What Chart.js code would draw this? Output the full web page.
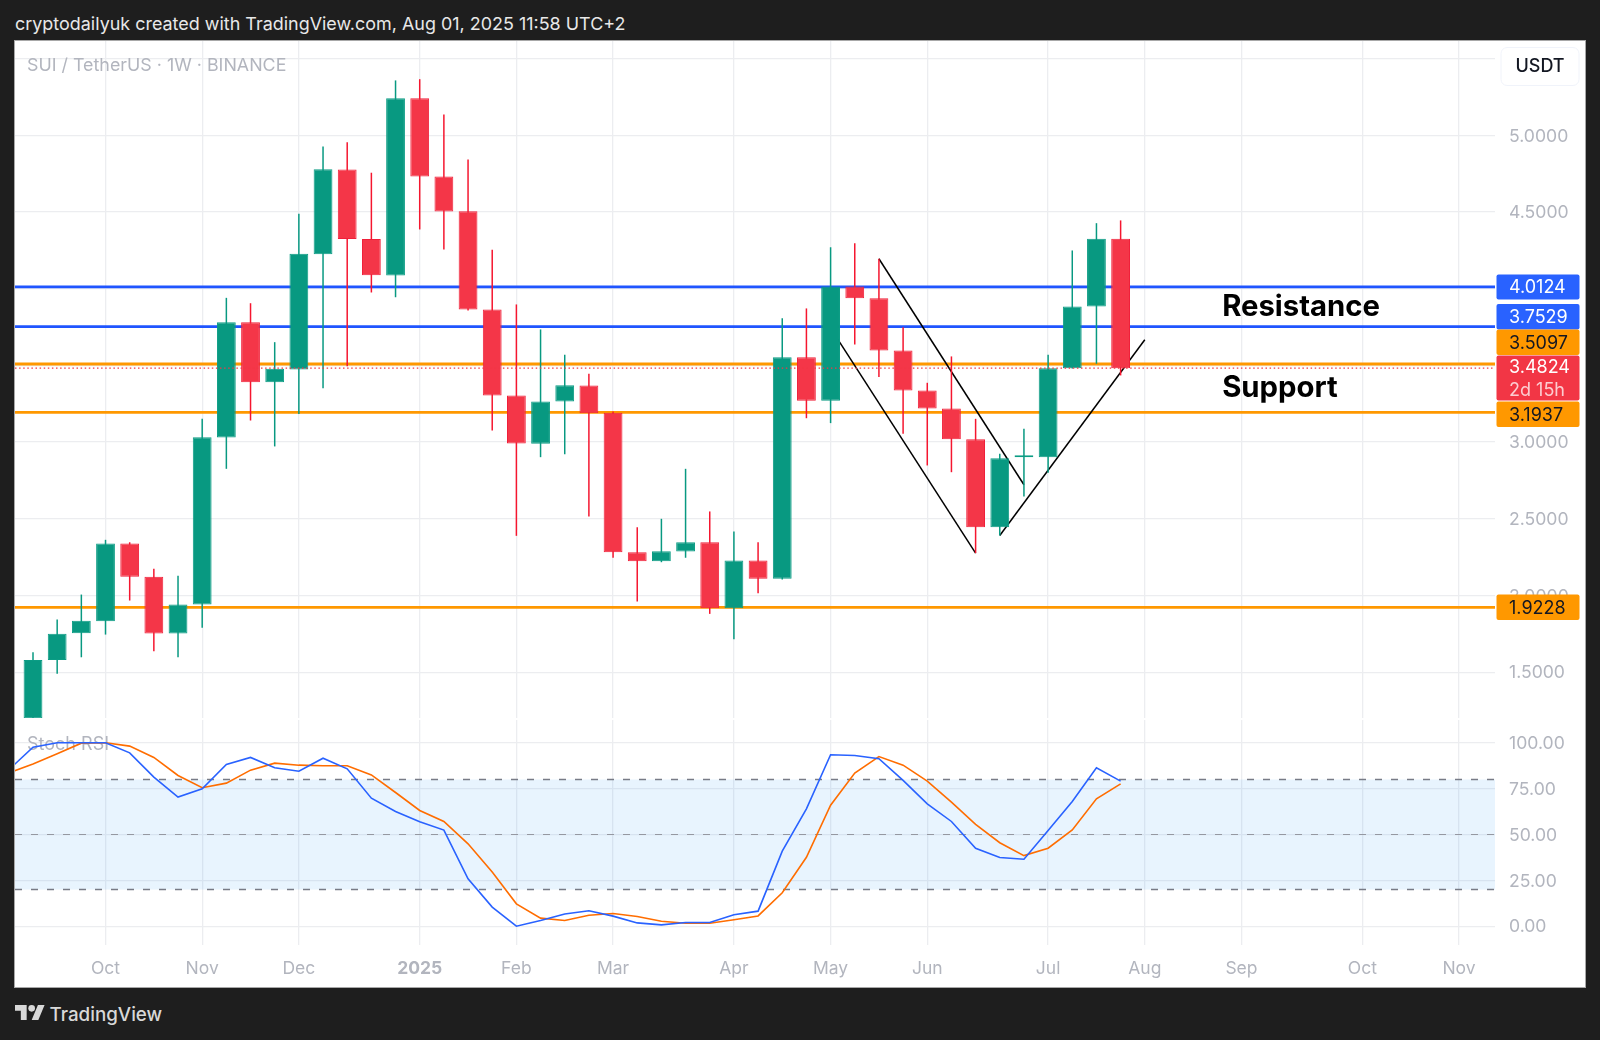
<!DOCTYPE html>
<html><head><meta charset="utf-8">
<script src="https://cdn.jsdelivr.net/npm/chart.js@4/dist/chart.umd.js"></script>
<style>
html,body{margin:0;padding:0;background:#1e1e1e;width:1600px;height:1040px;overflow:hidden;font-family:Inter,sans-serif}
#panel{position:absolute;left:14px;top:40px;width:1570px;height:946px;background:#fff;border:1px solid #a8a8a8}
canvas{position:absolute;display:block}
#head{position:absolute;left:15px;top:13px;font-size:17.95px;line-height:22px;color:#e8e8e8;white-space:nowrap}
#foot{position:absolute;left:49.5px;top:1003px;font-size:18.8px;line-height:24px;font-weight:500;color:#d8d8d8;white-space:nowrap}
#logo{position:absolute;left:15px;top:1005px;width:30px;height:15px}
</style></head><body>
<div id="head">cryptodailyuk created with TradingView.com, Aug 01, 2025 11:58 UTC+2</div>
<div id="panel">
<canvas id="price" width="1570" height="677" style="left:0;top:0"></canvas>
<canvas id="osc" width="1570" height="266" style="left:0;top:679px"></canvas>
</div>
<svg id="logo" viewBox="0 4 36 18"><path fill="#d8d8d8" d="M14 22H7V11H0V4h14v18zM28 22h-8l7.5-18h8L28 22z"/><circle fill="#d8d8d8" cx="20" cy="8" r="4"/></svg>
<div id="foot">TradingView</div>
<script>
// ---- weekly candles, values ----
const opens  = [1.200,1.580,1.754,1.832,2.339,2.122,1.752,1.941,3.030,3.782,3.391,3.474,4.226,4.778,4.324,4.087,5.243,4.733,4.506,3.865,3.304,2.989,3.265,3.369,3.191,2.282,2.224,2.287,2.347,1.917,2.228,2.109,3.554,3.270,4.015,3.939,3.598,3.337,3.219,3.019,2.445,2.902,2.902,3.482,3.885,4.326];
const highs  = [1.630,1.843,2.006,2.363,2.347,2.174,2.128,3.152,3.941,3.906,3.652,4.489,4.928,4.956,4.757,5.359,5.367,5.137,4.843,4.254,3.898,3.735,3.570,3.446,3.200,2.445,2.500,2.826,2.548,2.417,2.347,3.808,3.872,4.271,4.297,4.196,3.750,3.387,3.559,3.152,2.924,3.087,3.570,4.250,4.428,4.446];
const lows   = [1.198,1.489,1.597,1.745,1.967,1.637,1.597,1.789,2.826,3.141,2.972,3.184,3.352,3.495,3.976,3.945,4.387,4.256,3.859,3.076,2.389,2.902,2.921,2.515,2.246,1.961,2.217,2.246,1.880,1.715,2.015,2.105,3.156,3.124,3.637,3.424,3.054,2.848,2.804,2.276,2.391,2.645,2.800,3.480,3.511,3.435];
const closes = [1.580,1.750,1.835,2.339,2.122,1.752,1.941,3.032,3.782,3.391,3.478,4.228,4.780,4.324,4.089,5.243,4.733,4.504,3.865,3.304,2.991,3.265,3.371,3.189,2.282,2.224,2.289,2.347,1.917,2.228,2.109,3.554,3.270,4.015,3.939,3.598,3.337,3.219,3.019,2.445,2.895,2.906,3.482,3.885,4.326,3.482];
// Stoch RSI, first value belongs to the week before the first candle
const stochK = [85.3,97.6,100,100,100,94.5,81.3,70.4,74.9,88.2,92,86.4,84.5,91.6,85.8,69.8,62.5,56.9,52.4,25.8,10.4,0,3.1,6.7,8.4,5.5,1.8,0.7,2,2,6.2,8.2,40.9,64,93.5,93.1,91.3,79.5,66.7,57.1,42.5,37.5,36.5,52.2,68,86.4,79.1];
const stochD = [83.5,88.5,94,99.8,100,98.2,92,82.2,75.5,78,85.1,88.9,87.8,87.5,87.5,82.5,72.9,63.1,57.1,44.9,29.5,12.2,4.4,3.1,6,6.9,5.3,2.7,1.6,1.6,3.5,5.6,18.2,37.6,66,83.5,92.5,87.8,79.1,67.6,55.5,45.5,38.5,42.5,52.5,69.5,77.6];
// ---- axes ----
const monthIdx    = [3,7,11,16,20,24,29,33,37,42,46,50,55,59];
const monthLabels = ['Oct','Nov','Dec','2025','Feb','Mar','Apr','May','Jun','Jul','Aug','Sep','Oct','Nov'];
const priceTicks  = [1.5,2,2.5,3,3.5,4,4.5,5,5.5];
const oscTicks    = [0,25,50,75,100];
const X_MIN=-0.745, X_MAX=60.49;
// ---- drawn levels and trend lines (price units) ----
const resistance = [4.0124,3.7529];
const support    = [3.5097,3.1937,1.9228];
const lastPrice  = 3.4824;
const trendUpperX=[35,41],  trendUpperY=[4.196,2.722];
const trendLowerX=[33,39],  trendLowerY=[3.743,2.276];
const trendRiseX =[40,46],  trendRiseY =[2.391,3.668];
const oscBands=[80,50,20];

const GREEN='#089981',RED='#F23645',GRID='#ecedf0',TXT='#b2b5be',BLUE='#2962FF',ORANGE='#FF9800';
const weeks=opens.map((_,i)=>i);
const flat=(v,color,width,dash,order)=>({type:'line',data:[{x:X_MIN,y:v},{x:X_MAX,y:v}],borderColor:color,borderWidth:width,borderDash:dash||[],pointRadius:0,order});
const seg=(xs,ys)=>({type:'line',data:xs.map((x,i)=>({x,y:ys[i]})),borderColor:'#000',borderWidth:1.5,pointRadius:0,order:3});
const baseX=(extra)=>Object.assign({type:'linear',min:X_MIN,max:X_MAX,offset:false,border:{display:false},
  grid:{color:GRID,lineWidth:1.3,drawTicks:false,offset:false},
  afterBuildTicks(s){s.ticks=monthIdx.map(value=>({value}));}},extra);
const fixY=(s)=>{s.width=90;s.paddingTop=0;s.paddingBottom=0;};
const lab=(ctx,t,x,y,font,color,align)=>{ctx.font=font;ctx.fillStyle=color;ctx.textAlign=align||'left';ctx.textBaseline='middle';ctx.fillText(t,x,y);};

const badges=[
 {lines:['4.0124'],fill:BLUE,ink:'#fff',top:274.5,bottom:299.5},
 {lines:['3.7529'],fill:BLUE,ink:'#fff',top:304,bottom:329.5},
 {lines:['3.5097'],fill:ORANGE,ink:'#131722',top:329.5,bottom:355},
 {lines:['3.4824','2d 15h'],fill:RED,ink:'#fff',top:355.5,bottom:400.5},
 {lines:['3.1937'],fill:ORANGE,ink:'#131722',top:401.5,bottom:427},
 {lines:['1.9228'],fill:ORANGE,ink:'#131722',top:594.5,bottom:620}
];
const priceOverlay={id:'priceOverlay',
 beforeDatasetsDraw(c){lab(c.ctx,'SUI / TetherUS · 1W · BINANCE',12,24.5,'17.85px Inter',TXT);},
 afterDraw(c){
  const ctx=c.ctx,sx=c.scales.x,sy=c.scales.y;
  lab(ctx,'Resistance',sx.getPixelForValue(49.2),sy.getPixelForValue(3.882),'bold 29.3px Inter','#000');
  lab(ctx,'Support',sx.getPixelForValue(49.2),sy.getPixelForValue(3.352),'bold 29.3px Inter','#000');
  // currency button
  ctx.beginPath();ctx.roundRect(1486,6.5,78,38,6);ctx.fillStyle='#fff';ctx.fill();ctx.strokeStyle='#f0f3fa';ctx.lineWidth=1;ctx.stroke();
  lab(ctx,'USDT',1525,25.5,'500 18px Inter','#131722','center');
  badges.forEach(b=>{
   ctx.beginPath();ctx.roundRect(1481.5,b.top-41,83,b.bottom-b.top,2);ctx.fillStyle=b.fill;ctx.fill();
   const h=(b.bottom-b.top)/b.lines.length;
   b.lines.forEach((t,i)=>lab(ctx,t,1494,b.top-41+h*(i+.5)+1,'18px Inter',i?'rgba(255,255,255,.75)':b.ink));
  });
 }};
const oscOverlay={id:'oscOverlay',beforeDatasetsDraw(c){lab(c.ctx,'Stoch RSI',12,25,'18px Inter',TXT);}};

new Chart(document.getElementById('price'),{type:'bar',
 data:{datasets:[
  flat(lastPrice,RED,1.2,[1.5,2.6],0),
  {type:'bar',data:weeks.map(i=>({x:i,y:[opens[i],closes[i]]})),barThickness:18.8,grouped:false,inflateAmount:0,minBarLength:2,borderSkipped:false,borderWidth:1,
   backgroundColor:weeks.map(i=>closes[i]>=opens[i]?GREEN:'#F43648'),
   borderColor:weeks.map(i=>closes[i]>=opens[i]?'#0b9c84':'#f0203a'),order:1},
  {type:'bar',data:weeks.map(i=>({x:i,y:[lows[i],highs[i]]})),barThickness:1.5,grouped:false,inflateAmount:0,borderWidth:0,
   backgroundColor:weeks.map(i=>closes[i]>=opens[i]?GREEN:'#F5162F'),order:2},
  seg(trendUpperX,trendUpperY),seg(trendLowerX,trendLowerY),seg(trendRiseX,trendRiseY),
  ...resistance.map(v=>flat(v,'#1f55ff',2.8,null,4)),
  ...support.map(v=>flat(v,ORANGE,2.8,null,4))
 ]},
 options:{responsive:false,animation:false,layout:{padding:0},
  plugins:{legend:{display:false},tooltip:{enabled:false}},
  scales:{
   x:baseX({ticks:{display:false,autoSkip:false},afterFit(s){s.height=0;s.paddingLeft=0;s.paddingRight=0;}}),
   y:{type:'linear',position:'right',min:1.201,max:5.616,border:{display:false},
      grid:{color:GRID,lineWidth:1.3,drawTicks:false},
      afterBuildTicks(s){s.ticks=priceTicks.map(value=>({value}));},
      ticks:{color:TXT,font:{family:'Inter',size:17.6},padding:14,labelOffset:1,autoSkip:false,callback:v=>v>=5.5?'':v.toFixed(4)},
      afterFit:fixY}
  }},
 plugins:[priceOverlay]});

new Chart(document.getElementById('osc'),{type:'line',
 data:{datasets:[
  {data:stochK.map((y,i)=>({x:i-1,y})),borderColor:BLUE,borderWidth:1.6,pointRadius:0,order:0},
  {data:stochD.map((y,i)=>({x:i-1,y})),borderColor:'#FF6D00',borderWidth:1.6,pointRadius:0,order:1},
  flat(oscBands[0],'#787b86',1.6,[7,9],2),
  flat(oscBands[1],'#9598a1',1.2,[7,9],2),
  flat(oscBands[2],'#787b86',1.6,[7,9],2),
  {data:[{x:X_MIN,y:oscBands[0]},{x:X_MAX,y:oscBands[0]}],borderWidth:0,pointRadius:0,backgroundColor:'rgba(33,150,243,0.1)',fill:{target:{value:oscBands[2]}},order:3}
 ]},
 options:{responsive:false,animation:false,layout:{padding:0},
  plugins:{legend:{display:false},tooltip:{enabled:false}},
  scales:{
   x:baseX({ticks:{color:TXT,padding:13,autoSkip:false,maxRotation:0,
        font:ctx=>({family:'Inter',size:17.5,weight:ctx.tick&&ctx.tick.label==='2025'?'bold':'normal'}),
        callback:v=>monthLabels[monthIdx.indexOf(v)]},
      afterFit(s){s.height=41;s.paddingLeft=0;s.paddingRight=0;}}),
   y:{type:'linear',position:'right',min:-10.25,max:112.43,border:{display:false},
      grid:{color:GRID,lineWidth:1.3,drawTicks:false},
      afterBuildTicks(s){s.ticks=oscTicks.map(value=>({value}));},
      ticks:{color:TXT,font:{family:'Inter',size:17.6},padding:14,labelOffset:1,autoSkip:false,callback:v=>v.toFixed(2)},
      afterFit:fixY}
  }},
 plugins:[oscOverlay]});
</script>
</body></html>
